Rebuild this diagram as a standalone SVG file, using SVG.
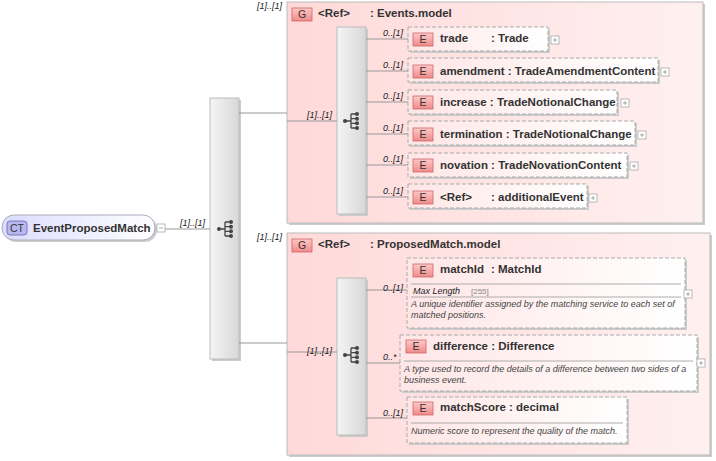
<svg xmlns="http://www.w3.org/2000/svg" width="716" height="461" viewBox="0 0 716 461">
<defs>
<linearGradient id="grp" x1="0" y1="0" x2="1" y2="0"><stop offset="0" stop-color="#ffd9d9"/><stop offset="1" stop-color="#fff0f0"/></linearGradient>
<linearGradient id="el" x1="0" y1="0" x2="1" y2="0"><stop offset="0" stop-color="#ffe6e6"/><stop offset="1" stop-color="#ffffff"/></linearGradient>
<linearGradient id="seq" x1="0" y1="0" x2="1" y2="0"><stop offset="0" stop-color="#f4f4f4"/><stop offset="1" stop-color="#d8d8d8"/></linearGradient>
<linearGradient id="badge" x1="0" y1="0" x2="0" y2="1"><stop offset="0" stop-color="#ffc8c8"/><stop offset="1" stop-color="#f08a8a"/></linearGradient>
<linearGradient id="ct" x1="0" y1="0" x2="1" y2="0"><stop offset="0" stop-color="#dcdcff"/><stop offset="1" stop-color="#ffffff"/></linearGradient>
<g id="seqicon"><circle cx="-7" cy="0" r="2" fill="#444"/><path d="M-7 0H-1M-1-7V7M-1-7H4M-1-2.3H4M-1 2.3H4M-1 7H4" stroke="#444" stroke-width="1.3" fill="none"/><circle cx="5" cy="-7" r="2" fill="#444"/><circle cx="5" cy="-2.3" r="2" fill="#444"/><circle cx="5" cy="2.3" r="2" fill="#444"/><circle cx="5" cy="7" r="2" fill="#444"/></g>
<g id="plus"><rect x="0" y="0" width="8" height="8" fill="#fff" stroke="#aaa" stroke-width="0.8"/><path d="M2 4H6M4 2V6" stroke="#999" stroke-width="0.8"/></g>
</defs>
<style>
text{font-family:"Liberation Sans",Arial,sans-serif;fill:#333}
.b{font-size:11.5px;font-weight:bold}
.m{font-size:9px;font-style:italic;fill:#222}
.d{font-size:9px;font-style:italic;fill:#444}
.g{fill:url(#grp);stroke:#bbb;stroke-width:1}
.e{fill:url(#el);stroke:#aaa;stroke-width:1;stroke-dasharray:4 2}
.sq{fill:url(#seq);stroke:#bbb;stroke-width:1}
.bd{fill:url(#badge);stroke:#c66;stroke-width:0.8}
.bt{font-size:10.5px;fill:#333;text-anchor:middle}
.sh{fill:#ccc}
.ln{stroke:#999;stroke-width:1;fill:none}
.hr{stroke:#999;stroke-width:0.8}
</style>
<g id="ct-node">
<rect x="4" y="217" width="153" height="25" rx="12" class="sh"/>
<rect x="2" y="215" width="153" height="25" rx="12" fill="url(#ct)" stroke="#aab" stroke-width="1"/>
<rect x="7" y="221" width="20" height="14" rx="3" fill="#b8b8f0" stroke="#66a" stroke-width="0.8"/>
<text class="bt" x="17" y="232">CT</text>
<text class="b" x="33" y="232">EventProposedMatch</text>
<rect x="157" y="224" width="8" height="8" fill="#fff" stroke="#aaa" stroke-width="0.8"/><path d="M159 228H163" stroke="#999" stroke-width="0.8"/>
</g>
<g id="seq-main">
<rect x="212" y="100" width="29" height="261" class="sh"/>
<rect x="210" y="98" width="29" height="261" class="sq"/>
<use href="#seqicon" x="226" y="229"/>
</g>
<g id="group-events">
<rect x="289" y="4" width="416" height="221" class="sh"/>
<rect x="287" y="2" width="416" height="221" class="g"/>
<rect x="292" y="8" width="20" height="13" class="bd"/><text class="bt" x="302" y="18">G</text>
<text class="b" x="318" y="17">&lt;Ref&gt;</text><text class="b" x="370" y="17">: Events.model</text>
<rect x="339" y="29" width="29" height="187" class="sh"/>
<rect x="337" y="27" width="29" height="187" class="sq"/>
<use href="#seqicon" x="352" y="121"/>
</g>
<g id="el-trade"><rect x="410" y="29" width="140" height="24" class="sh"/><rect x="408" y="27" width="140" height="24" class="e"/><rect x="413" y="33" width="20" height="13" class="bd"/><text class="bt" x="423" y="43">E</text><text class="b" x="440" y="42">trade</text><text class="b" x="491" y="42">: Trade</text><use href="#plus" x="551" y="36"/></g>
<g id="el-amendment"><rect x="410" y="60" width="250" height="24" class="sh"/><rect x="408" y="58" width="250" height="24" class="e"/><rect x="413" y="65" width="20" height="13" class="bd"/><text class="bt" x="423" y="75">E</text><text class="b" x="440" y="75">amendment : TradeAmendmentContent</text><use href="#plus" x="661" y="68"/></g>
<g id="el-increase"><rect x="410" y="92" width="209" height="24" class="sh"/><rect x="408" y="90" width="209" height="24" class="e"/><rect x="413" y="96" width="20" height="13" class="bd"/><text class="bt" x="423" y="106">E</text><text class="b" x="440" y="106">increase : TradeNotionalChange</text><use href="#plus" x="621" y="99"/></g>
<g id="el-termination"><rect x="410" y="123" width="227" height="24" class="sh"/><rect x="408" y="121" width="227" height="24" class="e"/><rect x="413" y="128" width="20" height="13" class="bd"/><text class="bt" x="423" y="138">E</text><text class="b" x="440" y="138">termination : TradeNotionalChange</text><use href="#plus" x="638" y="131"/></g>
<g id="el-novation"><rect x="410" y="155" width="219" height="24" class="sh"/><rect x="408" y="153" width="219" height="24" class="e"/><rect x="413" y="159" width="20" height="13" class="bd"/><text class="bt" x="423" y="169">E</text><text class="b" x="440" y="169">novation : TradeNovationContent</text><use href="#plus" x="630" y="162"/></g>
<g id="el-additional"><rect x="410" y="186" width="179" height="24" class="sh"/><rect x="408" y="184" width="179" height="24" class="e"/><rect x="413" y="191" width="20" height="13" class="bd"/><text class="bt" x="423" y="201">E</text><text class="b" x="440" y="201">&lt;Ref&gt;</text><text class="b" x="491" y="201">: additionalEvent</text><use href="#plus" x="589" y="194"/></g>
<g id="group-proposed">
<rect x="289" y="235" width="423" height="222" class="sh"/>
<rect x="287" y="233" width="423" height="222" class="g"/>
<rect x="292" y="239" width="20" height="13" class="bd"/><text class="bt" x="302" y="249">G</text>
<text class="b" x="318" y="248">&lt;Ref&gt;</text><text class="b" x="370" y="248">: ProposedMatch.model</text>
<rect x="339" y="280" width="29" height="157" class="sh"/>
<rect x="337" y="278" width="29" height="157" class="sq"/>
<use href="#seqicon" x="352" y="355"/>
</g>
<g id="el-matchId"><rect x="409" y="260" width="278" height="70" class="sh"/><rect x="407" y="258" width="278" height="70" class="e"/><rect x="413" y="264" width="20" height="13" class="bd"/><text class="bt" x="423" y="274">E</text><text class="b" x="440" y="273">matchId</text><text class="b" x="491" y="273">: MatchId</text>
<line class="hr" x1="411" y1="284" x2="681" y2="284"/><text class="m" x="413" y="294">Max Length</text><text x="471" y="294" style="font-size:8px;fill:#888">[255]</text><line class="hr" x1="411" y1="297" x2="681" y2="297"/>
<text class="d" x="411" y="307">A unique identifier assigned by the matching service to each set of</text><text class="d" x="411" y="318">matched positions.</text><use href="#plus" x="684" y="290"/></g>
<g id="el-difference"><rect x="402" y="337" width="297" height="56" class="sh"/><rect x="400" y="335" width="297" height="56" class="e"/><rect x="406" y="340" width="20" height="13" class="bd"/><text class="bt" x="416" y="350">E</text><text class="b" x="433" y="350">difference : Difference</text>
<line class="hr" x1="404" y1="361" x2="693" y2="361"/><text class="d" x="404" y="372">A type used to record the details of a difference between two sides of a</text><text class="d" x="404" y="383">business event.</text><use href="#plus" x="697" y="359"/></g>
<g id="el-matchScore"><rect x="409" y="399" width="220" height="46" class="sh"/><rect x="407" y="397" width="220" height="46" class="e"/><rect x="413" y="402" width="20" height="13" class="bd"/><text class="bt" x="423" y="412">E</text><text class="b" x="440" y="411">matchScore : decimal</text>
<line class="hr" x1="411" y1="423" x2="623" y2="423"/><text class="d" x="411" y="434">Numeric score to represent the quality of the match.</text></g>
<g id="connectors">
<path class="ln" d="M165 229H210M239 113H287M239 343H287M287 121H337M287 352H337M366 39H408M366 71H408M366 102H408M366 134H408M366 165H408M366 197H408M366 290H407M366 363H400M366 418H407"/>
<text class="m" x="180" y="226">[1]..[1]</text>
<text class="m" x="257" y="9">[1]..[1]</text>
<text class="m" x="257" y="240">[1]..[1]</text>
<text class="m" x="307" y="118">[1]..[1]</text>
<text class="m" x="307" y="354">[1]..[1]</text>
<text class="m" x="383" y="36">0..[1]</text>
<text class="m" x="383" y="68">0..[1]</text>
<text class="m" x="383" y="99">0..[1]</text>
<text class="m" x="383" y="131">0..[1]</text>
<text class="m" x="383" y="162">0..[1]</text>
<text class="m" x="383" y="194">0..[1]</text>
<text class="m" x="383" y="291">0..[1]</text>
<text class="m" x="383" y="360">0..*</text>
<text class="m" x="383" y="416">0..[1]</text>
</g>
</svg>
